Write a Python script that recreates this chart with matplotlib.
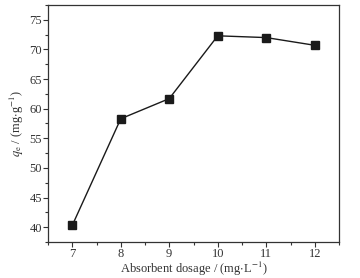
import matplotlib
matplotlib.use("Agg")
import matplotlib.pyplot as plt
from matplotlib.ticker import MultipleLocator

dosage = [7, 8, 9, 10, 11, 12]
qe = [40.3, 58.3, 61.7, 72.3, 72.0, 70.7]

plt.rcParams['font.family'] = 'Liberation Serif'
plt.rcParams['mathtext.fontset'] = 'stix'

fig = plt.figure(figsize=(3.6, 2.78), dpi=100)
ax = fig.add_axes([48 / 360, 36 / 278, 291 / 360, 237 / 278])

ax.plot(dosage, qe, color='#1a1a1a', lw=1.0, marker='s', ms=5.5,
        markerfacecolor='#1a1a1a', markeredgecolor='#1a1a1a')

ax.set_xlim(6.5, 12.5)
ax.set_ylim(37.5, 77.5)
ax.xaxis.set_major_locator(MultipleLocator(1))
ax.xaxis.set_minor_locator(MultipleLocator(0.5))
ax.yaxis.set_major_locator(MultipleLocator(5))
ax.yaxis.set_minor_locator(MultipleLocator(2.5))
ax.tick_params(which='both', direction='out', top=False, right=False,
               labelsize=9, colors='#333333', pad=1)
ax.tick_params(which='major', length=3.5, width=0.8)
ax.tick_params(which='minor', length=2, width=0.8)
for s in ax.spines.values():
    s.set_color('#333333')
    s.set_linewidth(0.9)

ax.set_xlabel(r'Absorbent dosage / (mg$\cdot$L$^{-1}$)', fontsize=9,
              color='#333333', labelpad=0)
ax.set_ylabel(r'$q_{\rm e}$ / (mg$\cdot$g$^{-1}$)', fontsize=9,
              color='#333333', labelpad=2)

fig.savefig('out.png', dpi=100)
